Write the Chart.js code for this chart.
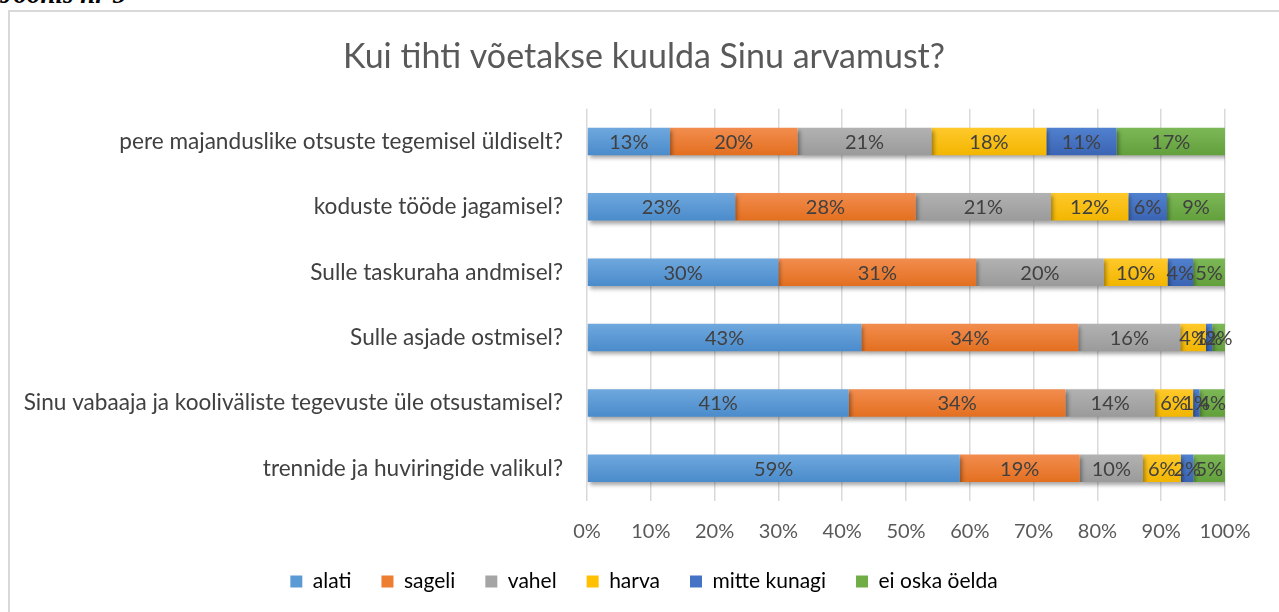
<!DOCTYPE html>
<html>
<head>
<meta charset="utf-8">
<script src="https://cdn.jsdelivr.net/npm/chart.js@4.4.1/dist/chart.umd.min.js"></script>
<style>
  html, body { margin: 0; padding: 0; background: #fff; overflow: hidden; }
  #caption {
    position: absolute; left: 0; top: -19px;
    font-family: "Liberation Serif", serif; font-style: italic; font-weight: bold;
    font-size: 27px; color: #000; line-height: 1;
  }
  #frame {
    position: absolute; left: 8px; top: 10px; width: 1300px; height: 640px;
    border: 2px solid #d9d9d9; box-sizing: border-box;
  }
  #wrap { position: absolute; left: 9px; top: 0; width: 1270px; height: 612px; }
</style>
</head>
<body>
<div id="caption">Joonis nr 5</div>
<div id="frame"></div>
<div id="wrap"><canvas id="chart"></canvas></div>
<script>
// vastused protsentides, ridade kaupa ülevalt alla
const categories = [
    'pere majanduslike otsuste tegemisel üldiselt?',
    'koduste tööde jagamisel?',
    'Sulle taskuraha andmisel?',
    'Sulle asjade ostmisel?',
    'Sinu vabaaja ja kooliväliste tegevuste üle otsustamisel?',
    'trennide ja huviringide valikul?'
];
const alati       = [13, 23, 30, 43, 41, 59];
const sageli      = [20, 28, 31, 34, 34, 19];
const vahel       = [21, 21, 20, 16, 14, 10];
const harva       = [18, 12, 10, 4, 6, 6];
const mitteKunagi = [11, 6, 4, 1, 1, 2];
const eiOska      = [17, 9, 5, 2, 4, 5];
const xTicks = [0, 10, 20, 30, 40, 50, 60, 70, 80, 90, 100];

const seriesNames = ['alati', 'sageli', 'vahel', 'harva', 'mitte kunagi', 'ei oska öelda'];
const seriesValues = [alati, sageli, vahel, harva, mitteKunagi, eiOska];
const baseColors = ['#5B9BD5', '#ED7D31', '#A5A5A5', '#FFC000', '#4472C4', '#70AD47'];
const topColors  = ['#6FA8DE', '#F28D4F', '#B2B2B2', '#FFC92B', '#5181CF', '#7DB856'];
const botColors  = ['#4A8BCB', '#E36F1F', '#9A9A9A', '#F2B500', '#3A64B3', '#62A03C'];

// 100% tulbad: iga rida jagatakse oma summaga nagu Excel teeb
const rowTotals = categories.map((c, i) => seriesValues.reduce((s, arr) => s + arr[i], 0));

const textFont = 'Lato, "Open Sans", sans-serif';

function barFill(k) {
    return function (ctx) {
        const chart = ctx.chart;
        if (!chart.chartArea || !chart.scales.y) return baseColors[k];
        const y = chart.scales.y.getPixelForValue(ctx.dataIndex);
        const g = chart.ctx.createLinearGradient(0, y - 14, 0, y + 14);
        g.addColorStop(0, topColors[k]);
        g.addColorStop(1, botColors[k]);
        return g;
    };
}

const shadowPlugin = {
    id: 'shadow',
    beforeDatasetsDraw(chart) {
        const c = chart.ctx;
        c.save();
        c.shadowColor = 'rgba(0,0,0,0.35)';
        c.shadowBlur = 4;
        c.shadowOffsetX = 2;
        c.shadowOffsetY = 3;
    },
    afterDatasetsDraw(chart) {
        chart.ctx.restore();
    }
};

const labelPlugin = {
    id: 'segLabels',
    afterDraw(chart) {
        const c = chart.ctx;
        c.save();
        c.font = '20px ' + textFont;
        c.fillStyle = '#404040';
        c.textAlign = 'center';
        c.textBaseline = 'middle';
        chart.data.datasets.forEach((ds, k) => {
            const meta = chart.getDatasetMeta(k);
            meta.data.forEach((bar, i) => {
                const x = (bar.x + bar.base) / 2;
                c.fillText(seriesValues[k][i] + '%', x, bar.y + 1);
            });
        });
        c.restore();
    }
};

new Chart(document.getElementById('chart'), {
    type: 'bar',
    data: {
        labels: categories,
        datasets: seriesNames.map((name, k) => ({
            label: name,
            data: seriesValues[k].map((v, i) => v / rowTotals[i] * 100),
            backgroundColor: barFill(k),
            borderWidth: 0,
            barPercentage: 0.42,
            categoryPercentage: 1
        }))
    },
    options: {
        indexAxis: 'y',
        responsive: true,
        maintainAspectRatio: false,
        animation: false,
        layout: { padding: { top: 0, right: 0, bottom: 10, left: 0 } },
        plugins: {
            title: {
                display: true,
                text: 'Kui tihti võetakse kuulda Sinu arvamust?',
                color: '#595959',
                font: { family: textFont, size: 34, weight: 'normal' },
                padding: { top: 37, bottom: 31 }
            },
            legend: {
                position: 'bottom',
                labels: {
                    color: '#595959',
                    font: { family: textFont, size: 21 },
                    boxWidth: 12,
                    boxHeight: 12,
                    padding: 30,
                    generateLabels(chart) {
                        return seriesNames.map((n, k) => ({
                            text: n, fillStyle: baseColors[k], strokeStyle: baseColors[k],
                            lineWidth: 0, datasetIndex: k, hidden: false
                        }));
                    }
                }
            },
            tooltip: { enabled: false }
        },
        scales: {
            x: {
                stacked: true,
                min: 0,
                max: 100,
                afterBuildTicks(scale) { scale.ticks = xTicks.map(v => ({ value: v })); },
                afterFit(scale) { scale.height = 40; scale.paddingRight = 54; },
                grid: { color: '#d9d9d9', lineWidth: 1.5, drawTicks: false },
                border: { display: false },
                ticks: {
                    color: '#595959',
                    font: { family: textFont, size: 20 },
                    padding: 19,
                    callback: v => v + '%'
                }
            },
            y: {
                stacked: true,
                afterFit(scale) { scale.width = 578; },
                grid: { display: false, drawTicks: false },
                border: { display: false },
                ticks: {
                    color: '#404040',
                    font: { family: textFont, size: 22.6 },
                    padding: 24
                }
            }
        }
    },
    plugins: [shadowPlugin, labelPlugin]
});
</script>
</body>
</html>
